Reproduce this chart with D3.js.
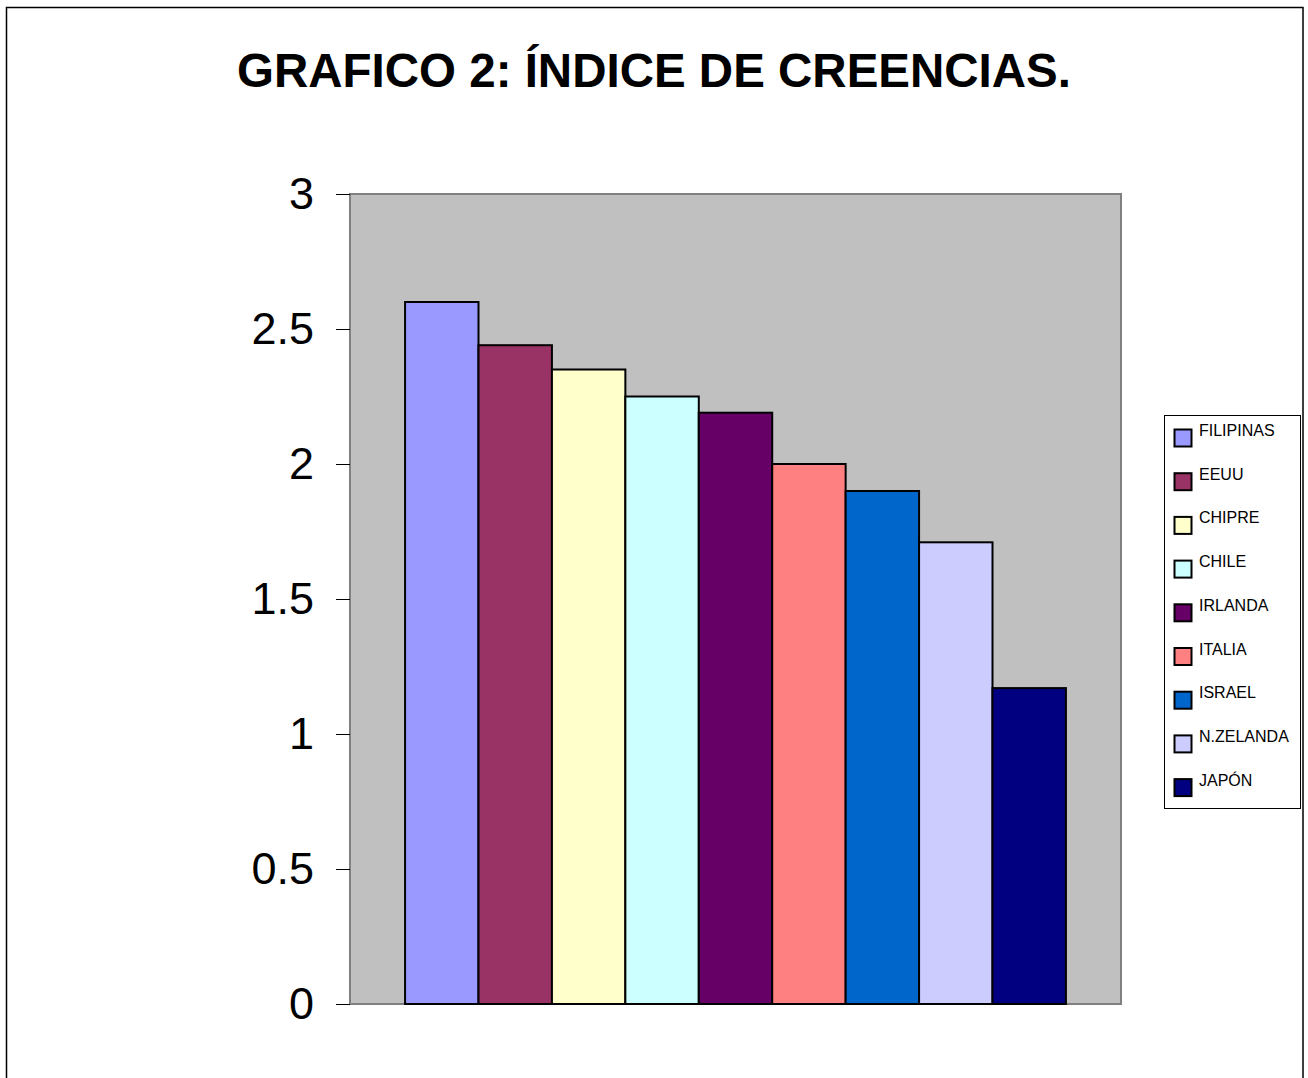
<!DOCTYPE html>
<html lang="es">
<head>
<meta charset="utf-8">
<style>
  body { margin: 0; background: #fff; }
  svg { display: block; font-family: "Liberation Sans", Arial, sans-serif; }
</style>
</head>
<body>
<svg width="1308" height="1078"></svg>
<script src="https://d3js.org/d3.v7.min.js"></script>
<script>
// data
var paises = ["FILIPINAS", "EEUU", "CHIPRE", "CHILE", "IRLANDA", "ITALIA", "ISRAEL", "N.ZELANDA", "JAPÓN"];
var valores = [2.6, 2.44, 2.35, 2.25, 2.19, 2.0, 1.9, 1.71, 1.17];
var colores = ["#9999FF", "#993366", "#FFFFCC", "#CCFFFF", "#660066", "#FF8080", "#0066CC", "#CCCCFF", "#000080"];
var yTicks = [0, 0.5, 1, 1.5, 2, 2.5, 3];
var titulo = "GRAFICO 2: ÍNDICE DE CREENCIAS.";

var svg = d3.select("svg");

// outer frame
svg.append("rect")
    .attr("x", 6.5).attr("y", 7.5)
    .attr("width", 1296.5).attr("height", 1090)
    .attr("fill", "#fff").attr("stroke", "#000").attr("stroke-width", 1.5);

svg.append("text")
    .attr("x", 654).attr("y", 87)
    .attr("text-anchor", "middle")
    .attr("font-size", 47.5).attr("font-weight", "bold")
    .text(titulo);

var plot = { left: 350, right: 1121, top: 194, bottom: 1004 };

var y = d3.scaleLinear().domain([0, 3]).range([plot.bottom, plot.top]);
var x = d3.scaleBand().domain(paises)
    .range([plot.left, plot.right])
    .paddingInner(0).paddingOuter(0.75);

// plot area
svg.append("rect")
    .attr("x", plot.left).attr("y", plot.top)
    .attr("width", plot.right - plot.left).attr("height", plot.bottom - plot.top)
    .attr("fill", "#C0C0C0").attr("stroke", "#808080").attr("stroke-width", 2);

// y axis
var yAxis = svg.append("g")
    .attr("transform", "translate(" + plot.left + ",0)")
    .call(d3.axisLeft(y).tickValues(yTicks).tickSize(14).tickPadding(22)
        .tickFormat(function (d) { return d; }));
yAxis.select(".domain").remove();
yAxis.selectAll("line").attr("stroke", "#000").attr("stroke-width", 1);
yAxis.selectAll("text")
    .attr("font-size", 45).attr("fill", "#000")
    .attr("font-family", "Liberation Sans, Arial, sans-serif");

// bars
svg.append("g").selectAll("rect")
    .data(paises)
    .join("rect")
    .attr("x", function (d) { return x(d); })
    .attr("y", function (d, i) { return y(valores[i]); })
    .attr("width", x.bandwidth())
    .attr("height", function (d, i) { return y(0) - y(valores[i]); })
    .attr("fill", function (d, i) { return colores[i]; })
    .attr("stroke", "#000").attr("stroke-width", 2);

// legend
var leg = svg.append("g").attr("transform", "translate(1164,415)");
leg.append("rect")
    .attr("x", 0.5).attr("y", 0.5).attr("width", 136).attr("height", 393)
    .attr("fill", "#fff").attr("stroke", "#000").attr("stroke-width", 1);
var item = leg.selectAll("g.item")
    .data(paises)
    .join("g")
    .attr("class", "item")
    .attr("transform", function (d, i) { return "translate(0," + (i * 43.7) + ")"; });
item.append("rect")
    .attr("x", 10.5).attr("y", 14.5).attr("width", 17).attr("height", 17)
    .attr("fill", function (d, i) { return colores[i]; })
    .attr("stroke", "#000").attr("stroke-width", 2);
item.append("text")
    .attr("x", 35).attr("y", 21)
    .attr("font-size", 16)
    .text(function (d) { return d; });
</script>
</body>
</html>
